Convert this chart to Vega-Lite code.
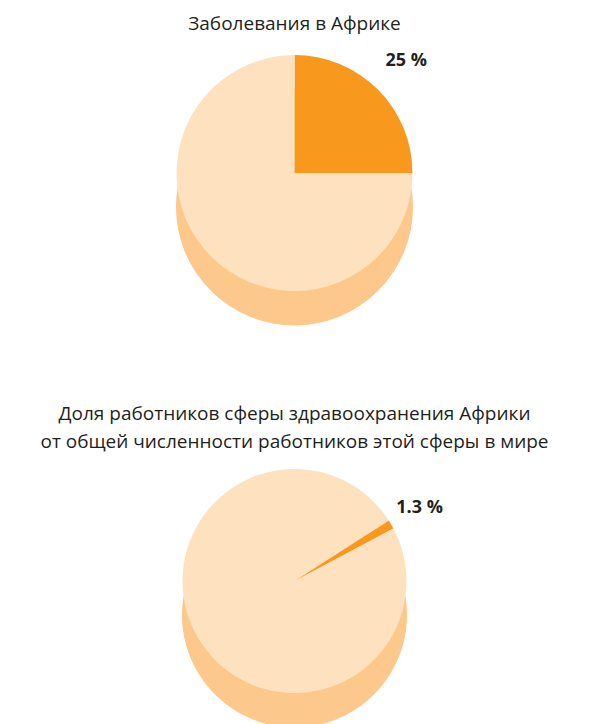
{
  "$schema": "https://vega.github.io/schema/vega-lite/v6.json",
  "padding": {"top": 15, "left": 0, "right": 0, "bottom": 0},
  "background": "white",
  "spacing": 78,
  "config": {
    "view": {"stroke": null},
    "font": "Open Sans",
    "title": {"fontSize": 19, "fontWeight": "normal", "color": "#231f20", "anchor": "middle", "lineHeight": 28}
  },
  "vconcat": [
    {
      "width": 589,
      "height": 250,
      "title": {"text": "Заболевания в Африке", "offset": 14},
      "data": {"values": [
        {"category": "Африка", "share": 25, "label": "25 %"},
        {"category": "Остальной мир", "share": 75, "label": ""}
      ]},
      "layer": [
        {
          "mark": {"type": "arc", "outerRadius": 118, "yOffset": 34, "color": "#fdc88b", "stroke": "#fdc88b", "strokeWidth": 1},
          "encoding": {
            "theta": {"field": "share", "type": "quantitative", "stack": true},
            "order": {"field": "category", "sort": "ascending"}
          }
        },
        {
          "mark": {"type": "arc", "outerRadius": 118},
          "encoding": {
            "theta": {"field": "share", "type": "quantitative", "stack": true},
            "order": {"field": "category", "sort": "ascending"},
            "color": {"field": "category", "type": "nominal", "scale": {"domain": ["Африка", "Остальной мир"], "range": ["#f8991d", "#fee2c0"]}, "legend": null}
          }
        },
        {
          "mark": {"type": "text", "radius": 158, "fontWeight": "bold", "fontSize": 18, "color": "#231f20"},
          "encoding": {
            "theta": {"field": "share", "type": "quantitative", "stack": true},
            "order": {"field": "category", "sort": "ascending"},
            "text": {"field": "label"}
          }
        }
      ]
    },
    {
      "width": 589,
      "height": 230,
      "title": {"text": ["Доля работников сферы здравоохранения Африки", "от общей численности работников этой сферы в мире"], "offset": 14},
      "data": {"values": [
        {"category": "Африка", "share": 1.3, "label": "1.3 %"},
        {"category": "Остальной мир", "share": 98.7, "label": ""}
      ]},
      "layer": [
        {
          "mark": {"type": "arc", "outerRadius": 112, "yOffset": 34, "color": "#fdc88b", "stroke": "#fdc88b", "strokeWidth": 1},
          "encoding": {
            "theta": {"field": "share", "type": "quantitative", "stack": true, "scale": {"range": [1.0, 7.2832]}},
            "order": {"field": "category", "sort": "ascending"}
          }
        },
        {
          "mark": {"type": "arc", "outerRadius": 112},
          "encoding": {
            "theta": {"field": "share", "type": "quantitative", "stack": true, "scale": {"range": [1.0, 7.2832]}},
            "order": {"field": "category", "sort": "ascending"},
            "color": {"field": "category", "type": "nominal", "scale": {"domain": ["Африка", "Остальной мир"], "range": ["#f8991d", "#fee2c0"]}, "legend": null}
          }
        },
        {
          "mark": {"type": "text", "radius": 145, "fontWeight": "bold", "fontSize": 18, "color": "#231f20"},
          "encoding": {
            "theta": {"field": "share", "type": "quantitative", "stack": true, "scale": {"range": [1.0, 7.2832]}},
            "order": {"field": "category", "sort": "ascending"},
            "text": {"field": "label"}
          }
        }
      ]
    }
  ]
}
